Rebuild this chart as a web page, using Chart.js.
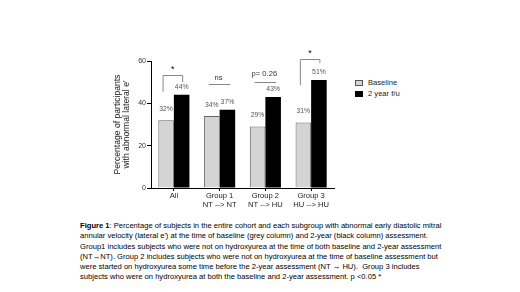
<!DOCTYPE html>
<html>
<head>
<meta charset="utf-8">
<script src="https://cdn.jsdelivr.net/npm/chart.js@4.4.1/dist/chart.umd.min.js"></script>
<style>
  html, body { margin: 0; padding: 0; background: #fff; }
  body { width: 520px; height: 292px; position: relative; overflow: hidden; font-family: "Liberation Sans", Arial, sans-serif; }
  #wrap { position: absolute; left: 110px; top: 45px; width: 230px; height: 170px; }
  #legend { position: absolute; left: 355px; top: 77px; font-size: 7.6px; color: #222; }
  #legend div { height: 11px; line-height: 11px; white-space: nowrap; }
  #legend span { display: inline-block; width: 8px; height: 6px; margin-right: 5px; vertical-align: -0.5px; box-sizing: border-box; }
  #caption { position: absolute; left: 80px; top: 221px; font-size: 7.6px; line-height: 10.3px; color: #000; white-space: nowrap; }
</style>
</head>
<body>
<div id="wrap"><canvas id="chart"></canvas></div>
<div id="legend"></div>
<div id="caption">
<b>Figure 1</b>: Percentage of subjects in the entire cohort and each subgroup with abnormal early diastolic mitral<br>
annular velocity (lateral e') at the time of baseline (grey column) and 2-year (black column) assessment.<br>
Group1 includes subjects who were not on hydroxyurea at the time of both baseline and 2-year assessment<br>
(NT&#8594;NT). Group 2 includes subjects who were not on hydroxyurea at the time of baseline assessment but<br>
were started on hydroxyurea some time before the 2-year assessment (NT &#8594; HU).&nbsp; Group 3 includes<br>
subjects who were on hydroxyurea at both the baseline and 2-year assessment. p &lt;0.05 *
</div>
<script>
// Chart data
const categories = [['All'], ['Group 1', 'NT --> NT'], ['Group 2', 'NT --> HU'], ['Group 3', 'HU --> HU']];
const baselineValues = [32, 34, 29, 31];
const followUpValues = [44, 37, 43, 51];
const seriesNames = ['Baseline', '2 year f/u'];
const yTicks = [0, 20, 40, 60];

// significance marks per group: text, line level, text level, left leg end, right leg end
const sigText = ['*', 'ns', 'p= 0.26', '*'];
const sigLine = [53.4, 49, 50, 61];
const sigTextAt = [56, 52, 54, 63.3];
const sigLeftLeg = [45.5, null, null, 48.6];
const sigRightLeg = [50, null, null, 59];

const fontFam = '"Liberation Sans", Arial, sans-serif';
const greyFill = '#d4d4d4';

// HTML legend built from the series names
const legendEl = document.getElementById('legend');
seriesNames.forEach((name, i) => {
    const row = document.createElement('div');
    const box = document.createElement('span');
    box.style.background = i === 0 ? greyFill : '#000';
    box.style.border = '1px solid ' + (i === 0 ? '#555' : '#000');
    row.appendChild(box);
    row.appendChild(document.createTextNode(name));
    legendEl.appendChild(row);
});

// value labels and significance brackets
const annotate = {
    id: 'annotate',
    afterDatasetsDraw(chart) {
        const ctx = chart.ctx;
        const y = chart.scales.y;
        ctx.save();
        ctx.textAlign = 'center';
        ctx.textBaseline = 'middle';
        ctx.font = '6.8px ' + fontFam;
        ctx.fillStyle = '#555';
        chart.data.datasets.forEach((ds, di) => {
            chart.getDatasetMeta(di).data.forEach((bar, i) => {
                ctx.fillText(ds.data[i] + '%', bar.x, bar.y - (di === 0 ? 11 : 8));
            });
        });
        const m0 = chart.getDatasetMeta(0).data;
        const m1 = chart.getDatasetMeta(1).data;
        ctx.strokeStyle = '#888';
        ctx.lineWidth = 1;
        for (let i = 0; i < categories.length; i++) {
            const x0 = m0[i].x - 3, x1 = m1[i].x + 1;
            const ly = Math.round(y.getPixelForValue(sigLine[i])) + 0.5;
            ctx.beginPath();
            if (sigLeftLeg[i] !== null) {
                ctx.moveTo(x0, y.getPixelForValue(sigLeftLeg[i]));
                ctx.lineTo(x0, ly);
                ctx.lineTo(x1, ly);
                ctx.lineTo(x1, y.getPixelForValue(sigRightLeg[i]));
            } else {
                ctx.moveTo(x0, ly);
                ctx.lineTo(x1 + 2, ly);
            }
            ctx.stroke();
            const isStar = sigText[i] === '*';
            ctx.fillStyle = isStar ? '#000' : '#333';
            ctx.font = (isStar ? '9px ' : '7.6px ') + fontFam;
            ctx.fillText(sigText[i], (x0 + x1) / 2, y.getPixelForValue(sigTextAt[i]));
        }
        ctx.restore();
    }
};

new Chart(document.getElementById('chart'), {
    type: 'bar',
    data: {
        labels: categories,
        datasets: [{
            label: seriesNames[0],
            data: baselineValues,
            backgroundColor: greyFill,
            borderColor: '#666',
            borderWidth: 1,
            borderSkipped: 'bottom'
        }, {
            label: seriesNames[1],
            data: followUpValues,
            backgroundColor: '#000',
            borderColor: '#000',
            borderWidth: 0
        }]
    },
    options: {
        responsive: true,
        maintainAspectRatio: false,
        animation: false,
        events: [],
        datasets: { bar: { categoryPercentage: 0.68, barPercentage: 1 } },
        layout: { padding: { top: 16, right: 6, left: 0, bottom: 0 } },
        plugins: { legend: { display: false }, tooltip: { enabled: false } },
        scales: {
            x: {
                grid: { drawOnChartArea: false, offset: false, tickLength: 3, color: '#000' },
                border: { color: '#000', width: 1 },
                ticks: { color: '#222', font: { family: fontFam, size: 7.6 }, padding: 0, maxRotation: 0, autoSkip: false },
                afterFit(scale) { scale.height = 27; }
            },
            y: {
                min: 0,
                max: 60,
                afterBuildTicks(scale) { scale.ticks = yTicks.map(v => ({ value: v })); },
                grid: { drawOnChartArea: false, tickLength: 4, color: '#000' },
                border: { color: '#000', width: 1 },
                ticks: { color: '#333', font: { family: fontFam, size: 7 }, padding: 1 },
                title: {
                    display: true,
                    text: ['Percentage of participants', "with abnormal lateral e'"],
                    color: '#222',
                    font: { family: fontFam, size: 8.6, lineHeight: 1.05 },
                    padding: { top: 3, bottom: 1 }
                },
                afterFit(scale) { scale.width = 41; }
            }
        }
    },
    plugins: [annotate]
});
</script>
</body>
</html>
